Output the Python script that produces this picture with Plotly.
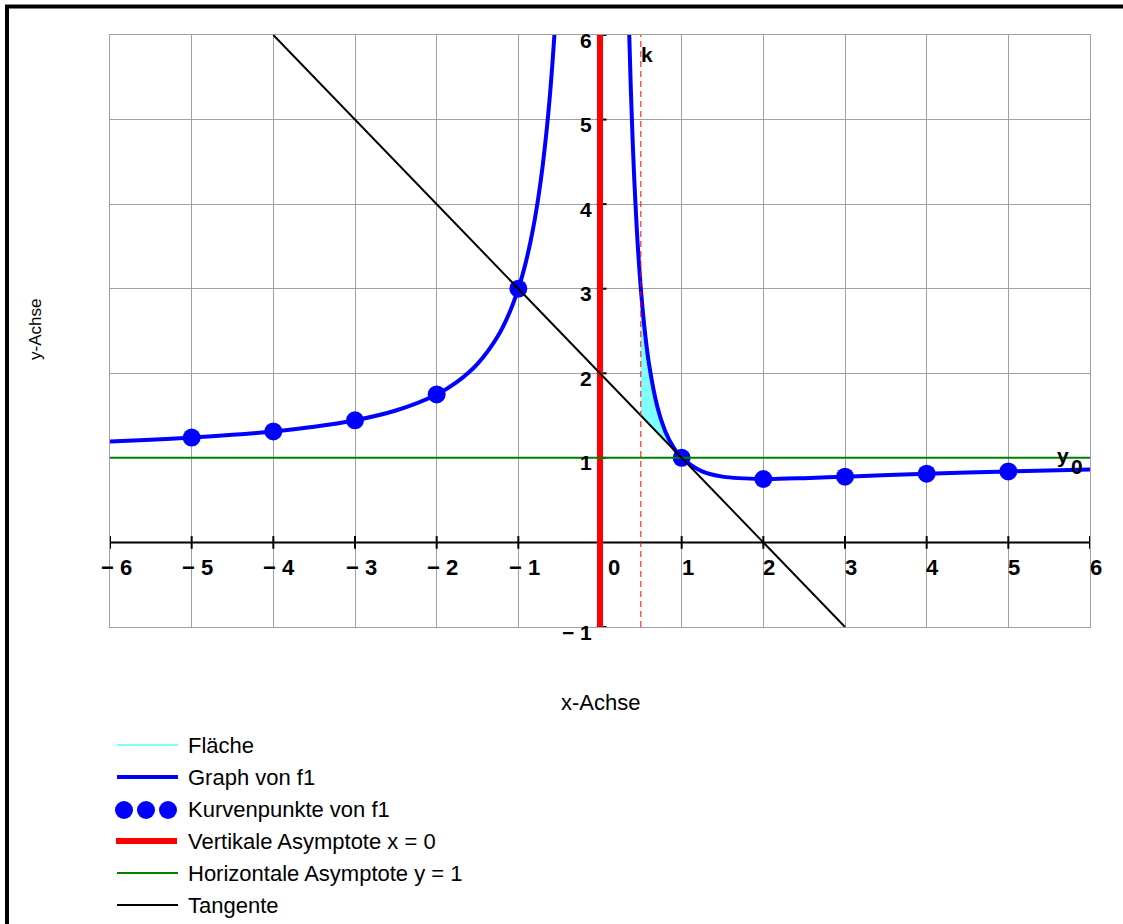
import plotly.graph_objects as go

# ---------------- data ----------------
f1_links_x = [-6, -5.5, -5, -4.5, -4, -3.5, -3, -2.5, -2, -1.75, -1.5, -1.25, -1.1, -1,
              -0.95, -0.9, -0.85, -0.8, -0.75, -0.7, -0.65, -0.62, -0.6, -0.58, -0.558]
f1_links_y = [1.194, 1.215, 1.24, 1.272, 1.3125, 1.367, 1.444, 1.56, 1.75, 1.898, 2.111, 2.44, 2.736, 3.0,
              3.161, 3.346, 3.561, 3.8125, 4.111, 4.469, 4.905, 5.214, 5.444, 5.697, 6.004]
f1_rechts_x = [0.358, 0.37, 0.38, 0.4, 0.42, 0.45, 0.47, 0.5, 0.55, 0.6, 0.7, 0.8, 0.9, 1.0,
               1.25, 1.5, 2, 2.5, 3, 4, 5, 6]
f1_rechts_y = [6.01, 5.602, 5.293, 4.75, 4.288, 3.716, 3.399, 3.0, 2.488, 2.111, 1.612, 1.3125, 1.1235, 1.0,
               0.84, 0.778, 0.75, 0.76, 0.778, 0.8125, 0.84, 0.861]

punkte_x = [-5, -4, -3, -2, -1, 1, 2, 3, 4, 5]
punkte_y = [1.24, 1.3125, 1.444, 1.75, 3.0, 1.0, 0.75, 0.778, 0.8125, 0.84]

flaeche_x = [0.5, 0.55, 0.6, 0.7, 0.8, 0.9, 1.0, 0.5]
flaeche_y = [3.0, 2.488, 2.111, 1.612, 1.3125, 1.1235, 1.0, 1.5]

tangente_x = [-4, 3]
tangente_y = [6, -1]

vert_asym_x = [0, 0]
vert_asym_y = [-1, 6]
horiz_asym_x = [-6, 6]
horiz_asym_y = [1, 1]
k_x = [0.5, 0.5]
k_y = [-1, 6]

x_ticks = [-6, -5, -4, -3, -2, -1, 0, 1, 2, 3, 4, 5, 6]
x_tick_labels = ["− 6", "− 5", "− 4", "− 3", "− 2", "− 1", "0", "1", "2", "3", "4", "5", "6"]
y_ticks = [-1, 1, 2, 3, 4, 5, 6]
y_tick_labels = ["− 1", "1", "2", "3", "4", "5", "6"]

legend_labels = ["Fläche", "Graph von f1", "Kurvenpunkte von f1", "Vertikale Asymptote x = 0",
                 "Horizontale Asymptote y = 1", "Tangente"]

# ---------------- layout geometry ----------------
W, H = 1123, 924
L, R, T, B = 110, 1090, 35, 627


def fx(px):
    return (px - L) / (R - L)


def fy(py):
    return (B - py) / (B - T)


FONT = "Liberation Sans, Arial, sans-serif"
BLUE = "#0000FF"
RED = "#FF0000"
GREEN = "#008000"
CYAN = "#80FFFF"
XTICK_SIZE = 22
YTICK_SIZE = 21
TEXT_SIZE = 22

fig = go.Figure()

fig.add_trace(go.Scatter(x=flaeche_x, y=flaeche_y, mode="lines", fill="toself",
                         fillcolor=CYAN, line=dict(color=CYAN, width=1), hoverinfo="skip"))

curve_x = f1_links_x + [None] + f1_rechts_x
curve_y = f1_links_y + [None] + f1_rechts_y
fig.add_trace(go.Scatter(x=curve_x, y=curve_y, mode="lines",
                         line=dict(color=BLUE, width=4, shape="spline", smoothing=0.8)))

fig.add_trace(go.Scatter(x=punkte_x, y=punkte_y, mode="markers",
                         marker=dict(color=BLUE, size=18, line=dict(width=0))))

fig.add_trace(go.Scatter(x=vert_asym_x, y=vert_asym_y, mode="lines",
                         line=dict(color=RED, width=6)))
fig.add_trace(go.Scatter(x=horiz_asym_x, y=horiz_asym_y, mode="lines",
                         line=dict(color=GREEN, width=2)))
fig.add_trace(go.Scatter(x=tangente_x, y=tangente_y, mode="lines",
                         line=dict(color="black", width=2)))
fig.add_trace(go.Scatter(x=k_x, y=k_y, mode="lines",
                         line=dict(color=RED, width=1, dash="6px,4px")))

shapes = []
# x-axis line at y = 0
shapes.append(dict(type="line", xref="x", yref="y", x0=-6, x1=6, y0=0, y1=0,
                   line=dict(color="black", width=2), layer="between"))
# x ticks
for t in x_ticks:
    shapes.append(dict(type="line", xref="x", yref="y", x0=t, x1=t, y0=-0.075, y1=0.075,
                       line=dict(color="black", width=2), layer="between"))
# y ticks
for t in y_ticks:
    shapes.append(dict(type="line", xref="x", yref="y", x0=-0.04, x1=0.08, y0=t, y1=t,
                       line=dict(color="black", width=2), layer="between"))

# outer frame (left and top visible)
shapes.append(dict(type="path", xref="paper", yref="paper",
                   path=f"M {fx(7)},{fy(930)} L {fx(7)},{fy(6.5)} L {fx(1130)},{fy(6.5)}",
                   line=dict(color="black", width=4)))

# legend samples
leg_y = [745, 777, 810, 841, 873, 905]
shapes.append(dict(type="line", xref="paper", yref="paper", x0=fx(117), x1=fx(178),
                   y0=fy(leg_y[0]), y1=fy(leg_y[0]), line=dict(color=CYAN, width=2)))
shapes.append(dict(type="line", xref="paper", yref="paper", x0=fx(117), x1=fx(178),
                   y0=fy(leg_y[1]), y1=fy(leg_y[1]), line=dict(color=BLUE, width=4)))
for cx in [124, 146, 168]:
    shapes.append(dict(type="circle", xref="paper", yref="paper",
                       x0=fx(cx - 9), x1=fx(cx + 9), y0=fy(leg_y[2] - 9), y1=fy(leg_y[2] + 9),
                       fillcolor=BLUE, line=dict(width=0)))
shapes.append(dict(type="line", xref="paper", yref="paper", x0=fx(116), x1=fx(177),
                   y0=fy(leg_y[3]), y1=fy(leg_y[3]), line=dict(color=RED, width=6)))
shapes.append(dict(type="line", xref="paper", yref="paper", x0=fx(117), x1=fx(178),
                   y0=fy(leg_y[4]), y1=fy(leg_y[4]), line=dict(color=GREEN, width=2)))
shapes.append(dict(type="line", xref="paper", yref="paper", x0=fx(117), x1=fx(178),
                   y0=fy(leg_y[5]), y1=fy(leg_y[5]), line=dict(color="black", width=2)))

annotations = []
for t, lab in zip(x_ticks, x_tick_labels):
    annotations.append(dict(x=t, y=0, xref="x", yref="y", text=f"<b>{lab}</b>", showarrow=False,
                            xanchor="center", yanchor="middle", xshift=14 if t == 0 else 6, yshift=-25,
                            font=dict(family=FONT, size=XTICK_SIZE, color="black")))
for t, lab in zip(y_ticks, y_tick_labels):
    annotations.append(dict(x=0, y=t, xref="x", yref="y", text=f"<b>{lab}</b>", showarrow=False,
                            xanchor="right", yanchor="middle", xshift=-6, yshift=-5,
                            font=dict(family=FONT, size=YTICK_SIZE, color="black")))

annotations.append(dict(x=0.5, y=6, xref="x", yref="y", text="<b>k</b>", showarrow=False,
                        xanchor="left", yanchor="middle", xshift=-2, yshift=-19,
                        font=dict(family=FONT, size=YTICK_SIZE, color="black")))
annotations.append(dict(x=fx(1063), y=fy(455), xref="paper", yref="paper", text="<b>y</b>",
                        showarrow=False, xanchor="center", yanchor="middle",
                        font=dict(family=FONT, size=YTICK_SIZE, color="black")))
annotations.append(dict(x=fx(1077), y=fy(466), xref="paper", yref="paper", text="<b>0</b>",
                        showarrow=False, xanchor="center", yanchor="middle",
                        font=dict(family=FONT, size=YTICK_SIZE, color="black")))

annotations.append(dict(x=fx(600), y=fy(702), xref="paper", yref="paper", text="x-Achse",
                        showarrow=False, xanchor="center", yanchor="middle",
                        font=dict(family=FONT, size=TEXT_SIZE, color="black")))
annotations.append(dict(x=fx(35), y=fy(330), xref="paper", yref="paper", text="y-Achse",
                        showarrow=False, xanchor="center", yanchor="middle", textangle=-90,
                        font=dict(family=FONT, size=17, color="black")))

for yy, lab in zip(leg_y, legend_labels):
    annotations.append(dict(x=fx(186), y=fy(yy), xref="paper", yref="paper", text=lab,
                            showarrow=False, xanchor="left", yanchor="middle",
                            font=dict(family=FONT, size=TEXT_SIZE, color="black")))

fig.update_layout(
    width=W, height=H,
    margin=dict(l=L, r=W - R, t=T, b=H - B, pad=0),
    paper_bgcolor="white", plot_bgcolor="white",
    showlegend=False,
    shapes=shapes, annotations=annotations,
    xaxis=dict(range=[-6, 6], dtick=1, tick0=0, showgrid=True, gridcolor="#a0a0a0", gridwidth=1,
               zeroline=False, showticklabels=False, ticks="", showline=True, linecolor="#a0a0a0",
               linewidth=1, mirror=True, fixedrange=True),
    yaxis=dict(range=[-1, 6], dtick=1, tick0=0, showgrid=True, gridcolor="#a0a0a0", gridwidth=1,
               zeroline=False, showticklabels=False, ticks="", showline=True, linecolor="#a0a0a0",
               linewidth=1, mirror=True, fixedrange=True),
)

fig.write_html("out.html")
